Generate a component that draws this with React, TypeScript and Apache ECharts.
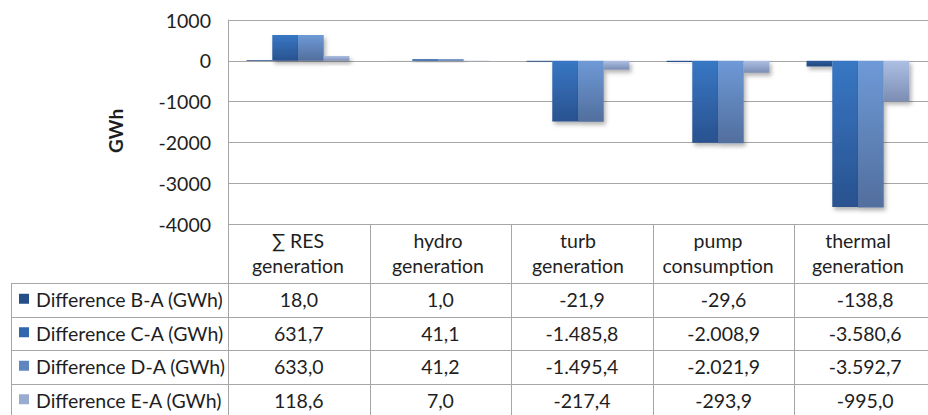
import React, { useEffect, useRef } from "react";
import * as echarts from "echarts";

const categories = ["∑ RES\ngeneration", "hydro\ngeneration", "turb\ngeneration", "pump\nconsumption", "thermal\ngeneration"];
const seriesNames = ["Difference B-A (GWh)", "Difference C-A (GWh)", "Difference D-A (GWh)", "Difference E-A (GWh)"];
const diffBA = [18.0, 1.0, -21.9, -29.6, -138.8];
const diffCA = [631.7, 41.1, -1485.8, -2008.9, -3580.6];
const diffDA = [633.0, 41.2, -1495.4, -2021.9, -3592.7];
const diffEA = [118.6, 7.0, -217.4, -293.9, -995.0];
const yTicks = { min: -4000, max: 1000, interval: 1000 };

const seriesData = [diffBA, diffCA, diffDA, diffEA];
const gradients = [
  ["#2b5c9e", "#22477d"],
  ["#3877c4", "#29528f"],
  ["#6e9ad7", "#516e9d"],
  ["#adbfe3", "#7b8db3"],
];
const legendColors = ["#264f8a", "#2f66ae", "#5f86c0", "#9aabd0"];

const W = 928;
const H = 415;
const GRID_LEFT = 228;
const GRID_TOP = 20;
const GRID_H = 204;
const GRID_W = 708;
const ROW_TOP = 283;
const ROW_H = 33.5;
const FONT = "Lato";
const FS = 19.5;
const LINE = "#a6a6a6";
const TEXT = "#1e1e1e";

function fmt(v: number): string {
  const s = Math.abs(v).toFixed(1);
  const [i, d] = s.split(".");
  const ii = i.replace(/\B(?=(\d{3})+(?!\d))/g, ".");
  return (v < 0 ? "-" : "") + ii + "," + d;
}

export default function App() {
  const ref = useRef<HTMLDivElement>(null);
  useEffect(() => {
    if (!ref.current) return;
    const chart = echarts.init(ref.current, null, { renderer: "svg" });
    const colW = GRID_W / categories.length;
    const bottom = GRID_TOP + GRID_H;
    const graphics: any[] = [];
    for (let i = 0; i <= categories.length; i++) {
      const x = Math.round(GRID_LEFT + i * colW) + 0.5;
      graphics.push({
        type: "line",
        shape: { x1: x, y1: bottom, x2: x, y2: H + 5 },
        style: { stroke: LINE, lineWidth: 1 },
        silent: true,
      });
    }
    graphics.push({
      type: "line",
      shape: { x1: 11.5, y1: ROW_TOP, x2: 11.5, y2: H + 5 },
      style: { stroke: LINE, lineWidth: 1 },
    });
    for (let r = 0; r <= seriesNames.length; r++) {
      const y = Math.round(ROW_TOP + r * ROW_H) + 0.5;
      graphics.push({
        type: "line",
        shape: { x1: 11, y1: y, x2: W + 10, y2: y },
        style: { stroke: LINE, lineWidth: 1 },
      });
    }
    seriesNames.forEach((name, r) => {
      const cy = ROW_TOP + r * ROW_H + ROW_H / 2;
      graphics.push({
        type: "rect",
        shape: { x: 19, y: cy - 6, width: 10, height: 10 },
        style: { fill: legendColors[r] },
      });
      graphics.push({
        type: "text",
        x: 36,
        y: cy,
        style: { text: name, fontSize: FS, fontFamily: FONT, fill: TEXT, align: "left", verticalAlign: "middle" },
      });
      seriesData[r].forEach((v, c) => {
        graphics.push({
          type: "text",
          x: GRID_LEFT + c * colW + colW / 2,
          y: cy,
          style: { text: fmt(v), fontSize: FS, fontFamily: FONT, fill: TEXT, align: "center", verticalAlign: "middle" },
        });
      });
    });
    graphics.push({
      type: "text",
      x: 115,
      y: 131,
      rotation: Math.PI / 2,
      style: { text: "GWh", fontSize: 19, fontWeight: "bold", fontFamily: FONT, fill: TEXT, align: "center", verticalAlign: "middle" },
    });

    chart.setOption({
      animation: false,
      backgroundColor: "#ffffff",
      grid: { left: GRID_LEFT, top: GRID_TOP, width: GRID_W, height: GRID_H },
      xAxis: {
        type: "category",
        data: categories,
        axisLine: { show: false },
        axisTick: { show: false },
        axisLabel: {
          interval: 0,
          margin: 4,
          fontSize: FS,
          lineHeight: 25,
          fontFamily: FONT,
          color: TEXT,
        },
      },
      yAxis: {
        type: "value",
        min: yTicks.min,
        max: yTicks.max,
        interval: yTicks.interval,
        axisLine: { show: true, lineStyle: { color: LINE } },
        axisTick: { show: false },
        splitLine: { lineStyle: { color: LINE, width: 1 } },
        axisLabel: { fontSize: FS, fontFamily: FONT, color: TEXT, margin: 17, formatter: (v: number) => String(v) },
      },
      series: seriesData.map((d, i) => ({
        type: "bar",
        name: seriesNames[i],
        data: d,
        barGap: "0%",
        barCategoryGap: "26.5%",
        itemStyle: {
          color: new echarts.graphic.LinearGradient(0, 0, 0, 1, [
            { offset: 0, color: gradients[i][0] },
            { offset: 1, color: gradients[i][1] },
          ]),
          shadowBlur: 4,
          shadowColor: "rgba(0,0,0,0.3)",
          shadowOffsetX: 2,
          shadowOffsetY: 3,
        },
      })),
      graphic: graphics,
    });
    return () => chart.dispose();
  }, []);
  return (
    <div
      ref={ref}
      style={{ position: "fixed", left: 0, top: 0, width: W, height: H, background: "#fff" }}
    />
  );
}
